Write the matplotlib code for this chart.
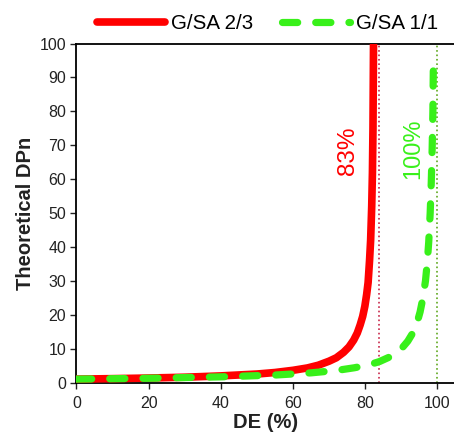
import numpy as np
import matplotlib.pyplot as plt

# ==========================================================
# DONNÉES
# ==========================================================

de_23 = [0, 10, 20, 30, 40, 50, 55, 60, 64, 67, 70, 72, 74, 75.5, 76.8, 77.8, 78.6,
         79.3, 79.9, 80.4, 80.8, 81.2, 81.5, 81.8, 82.0, 82.15, 82.3]
dpn_23 = [1.0, 1.14, 1.32, 1.56, 1.95, 2.5, 2.95, 3.6, 4.3, 5.1, 6.3, 7.3, 8.9, 10.5, 12.5,
          14.6, 17, 19.5, 22.5, 26, 29.5, 36, 42, 52, 62, 75, 100]

de_11 = [0, 20, 40, 55, 65, 72, 77, 81, 84, 86.5, 88.5, 90.3, 91.8, 93, 94.2, 95.2,
         96, 96.7, 97.2, 97.6, 98, 98.3, 98.55, 98.75, 98.9]
dpn_11 = [1.0, 1.25, 1.67, 2.2, 2.85, 3.55, 4.35, 5.2, 6.2, 7.4, 8.7, 10.3, 12.2, 14.3,
          17, 20.8, 25, 30, 35.5, 41.5, 50, 59, 69, 80, 96]

limites = [83.9, 100]
etiquettes = ['83%', '100%']
noms = ['G/SA 2/3', 'G/SA 1/1']

xticks = [0, 20, 40, 60, 80, 100]
yticks = np.arange(0, 101, 10)


def main():

    plt.rcParams['font.family'] = ['Liberation Sans', 'DejaVu Sans']

    fig = plt.figure(figsize=(4.54, 4.44), dpi=100)
    ax = fig.add_axes([0.1685, 0.1385, 0.8315, 0.7635])

    # ------------------------------------------------------
    # COURBES
    # ------------------------------------------------------

    ax.plot(de_23, dpn_23, color='#ff0000', linewidth=5.5,
            solid_capstyle='round', solid_joinstyle='round', label=noms[0], zorder=3)
    ax.plot(de_11, dpn_11, color='#38f01a', linewidth=5.2,
            dashes=(2.1, 2.5), dash_capstyle='round', dash_joinstyle='round',
            label=noms[1], zorder=4)

    # Limites théoriques
    ax.axvline(limites[0], color='#c8284a', linestyle=':', linewidth=1.2, zorder=2)
    ax.axvline(limites[1], color='#5fa81e', linestyle=':', linewidth=1.2, zorder=2)

    ax.text(75.3, 68.5, etiquettes[0], color='#ff0000', fontsize=17.5,
            rotation=90, ha='center', va='center')
    ax.text(93.4, 69, etiquettes[1], color='#38f01a', fontsize=17,
            rotation=90, ha='center', va='center')

    # ------------------------------------------------------
    # AXES
    # ------------------------------------------------------

    ax.set_xlim(0, 104.6)
    ax.set_ylim(0, 100)
    ax.set_xticks(xticks)
    ax.set_yticks(yticks)
    ax.tick_params(direction='out', length=4, width=1, labelsize=11.5, colors='#222222')
    ax.tick_params(axis='x', pad=6)

    ax.spines['right'].set_visible(False)
    for s in ['left', 'bottom', 'top']:
        ax.spines[s].set_linewidth(1.3)

    ax.set_xlabel('DE (%)', fontsize=14.5, fontweight='bold', color='#222222', labelpad=1)
    ax.set_ylabel('Theoretical DPn', fontsize=14.5, fontweight='bold', color='#222222', labelpad=3)

    ax.legend(loc='center', bbox_to_anchor=(0.589, 0.946), bbox_transform=fig.transFigure,
              ncol=2, frameon=False, fontsize=14.8, handlelength=3.3,
              handletextpad=0.3, columnspacing=1.4, borderpad=0)

    fig.savefig('out.png', dpi=100)


if __name__ == "__main__":
    main()
